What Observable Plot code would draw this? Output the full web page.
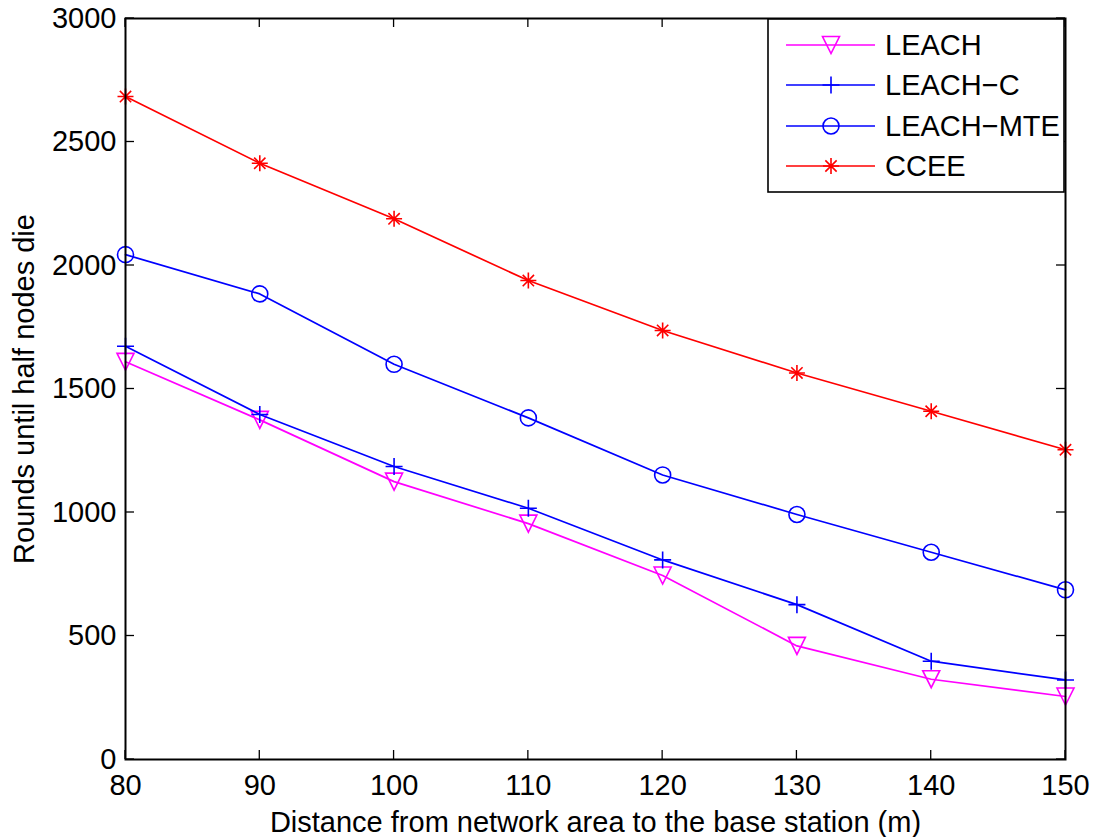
<!DOCTYPE html>
<html>
<head>
<meta charset="utf-8">
<script src="https://cdn.jsdelivr.net/npm/d3@7"></script>
<script src="https://cdn.jsdelivr.net/npm/@observablehq/plot@0.6"></script>
<style>
  body { margin: 0; background: #fff; }
  #chart svg { display: block; }
</style>
</head>
<body>
<div id="chart"></div>
<script>
// Distance from the network area to the base station (m)
const distances = [80, 90, 100, 110, 120, 130, 140, 150];

// Rounds until half of the nodes die, per protocol
const leach    = [1610, 1375, 1125, 955, 745, 460, 325, 255];
const leachC   = [1673, 1397, 1186, 1017, 808, 627, 398, 322];
const leachMTE = [2044, 1885, 1600, 1383, 1152, 992, 839, 687];
const ccee     = [2684, 2414, 2189, 1939, 1737, 1565, 1410, 1254];

const seriesNames = ["LEACH", "LEACH\u2212C", "LEACH\u2212MTE", "CCEE"];
const xTicks = [80, 90, 100, 110, 120, 130, 140, 150];
const yTicks = [0, 500, 1000, 1500, 2000, 2500, 3000];

const xLabel = "Distance from network area to the base station (m)";
const yLabel = "Rounds until half nodes die";

// MATLAB-style marker shapes (stroked outlines, centred on the point)
const triangleDown = {
  draw(ctx, size) {
    const r = Math.sqrt(size / Math.PI);
    ctx.moveTo(-r, -r); ctx.lineTo(r, -r); ctx.lineTo(0, r); ctx.closePath();
  }
};
const plusMark = {
  draw(ctx, size) {
    const r = Math.sqrt(size / Math.PI);
    ctx.moveTo(-r, 0); ctx.lineTo(r, 0);
    ctx.moveTo(0, -r); ctx.lineTo(0, r);
  }
};
const asterisk = {
  draw(ctx, size) {
    const r = Math.sqrt(size / Math.PI);
    const d = r * Math.SQRT1_2;
    ctx.moveTo(-r, 0); ctx.lineTo(r, 0);
    ctx.moveTo(0, -r); ctx.lineTo(0, r);
    ctx.moveTo(-d, -d); ctx.lineTo(d, d);
    ctx.moveTo(-d, d); ctx.lineTo(d, -d);
  }
};

const styles = [
  {values: leach,    color: "#ff00ff", symbol: triangleDown, r: 8.5},
  {values: leachC,   color: "#0000ff", symbol: plusMark,     r: 8.5},
  {values: leachMTE, color: "#0000ff", symbol: d3.symbolCircle, r: 8},
  {values: ccee,     color: "#ff0000", symbol: asterisk,     r: 8}
];

const series = styles.map((s, i) => ({
  ...s,
  name: seriesNames[i],
  rows: distances.map((d, j) => ({distance: d, rounds: s.values[j]}))
}));

const font = "'Liberation Sans', Arial, Helvetica, sans-serif";
const fs = 29;

const marks = [];
for (const s of series) {
  marks.push(Plot.line(s.rows, {x: "distance", y: "rounds", stroke: s.color, strokeWidth: 1.7}));
  marks.push(Plot.dot(s.rows, {x: "distance", y: "rounds", stroke: s.color, fill: "none",
    symbol: s.symbol, r: s.r, strokeWidth: 1.6}));
}

marks.push(
  Plot.axisX({ticks: xTicks, tickSize: 0, tickPadding: 15, label: null, fontSize: fs, tickFormat: d3.format("d")}),
  Plot.axisY({ticks: yTicks, tickSize: 0, tickPadding: 9, label: null, fontSize: fs, tickFormat: d3.format("d")}),
  Plot.text([xLabel], {frameAnchor: "bottom", dy: 63, fontSize: fs, textAnchor: "middle", lineAnchor: "middle", text: d => d}),
  Plot.text([yLabel], {frameAnchor: "left", dx: -101, rotate: -90, fontSize: fs, textAnchor: "middle", lineAnchor: "middle", text: d => d}),
  Plot.frame({stroke: "black", strokeWidth: 2})
);

const chart = Plot.plot({
  width: 1094,
  height: 837,
  marginLeft: 125,
  marginRight: 29,
  marginTop: 18,
  marginBottom: 78,
  style: {fontFamily: font, fontSize: fs + "px", color: "black", background: "white"},
  x: {domain: [80, 150]},
  y: {domain: [0, 3000]},
  marks
});

const svg = d3.select(chart);
const xs = chart.scale("x"), ys = chart.scale("y");
const [plotLeft, plotRight] = xs.range;
const [plotBottom, plotTop] = ys.range;

// Inward tick marks on all four sides of the box
const tickLen = 9;
const tickGroup = svg.append("g").attr("stroke", "black").attr("stroke-width", 1.3);
for (const t of xTicks) {
  const x = xs.apply(t);
  tickGroup.append("line").attr("x1", x).attr("x2", x).attr("y1", plotBottom).attr("y2", plotBottom - tickLen);
  tickGroup.append("line").attr("x1", x).attr("x2", x).attr("y1", plotTop).attr("y2", plotTop + tickLen);
}
for (const t of yTicks) {
  const y = ys.apply(t);
  tickGroup.append("line").attr("y1", y).attr("y2", y).attr("x1", plotLeft).attr("x2", plotLeft + tickLen);
  tickGroup.append("line").attr("y1", y).attr("y2", y).attr("x1", plotRight).attr("x2", plotRight - tickLen);
}

// Legend box in the upper-right corner of the axes
const lg = svg.append("g").attr("class", "legend");
const box = {x0: 768, y0: 19, x1: 1064, y1: 192};
lg.append("rect")
  .attr("x", box.x0).attr("y", box.y0)
  .attr("width", box.x1 - box.x0).attr("height", box.y1 - box.y0)
  .attr("fill", "white").attr("stroke", "black").attr("stroke-width", 1.6);
const rowY = [45, 85, 126, 166];
series.forEach((s, i) => {
  const y = rowY[i];
  lg.append("line").attr("x1", 786).attr("x2", 875).attr("y1", y).attr("y2", y)
    .attr("stroke", s.color).attr("stroke-width", 1.7);
  lg.append("path")
    .attr("transform", `translate(831,${y})`)
    .attr("d", d3.symbol().type(s.symbol).size(s.r * s.r * Math.PI)())
    .attr("fill", "none").attr("stroke", s.color).attr("stroke-width", 1.6);
  lg.append("text").attr("x", 885).attr("y", y).attr("dy", "0.35em")
    .attr("text-anchor", "start")
    .attr("font-size", fs).attr("font-family", font).attr("fill", "black")
    .text(s.name);
});

document.getElementById("chart").append(chart);
</script>
</body>
</html>
